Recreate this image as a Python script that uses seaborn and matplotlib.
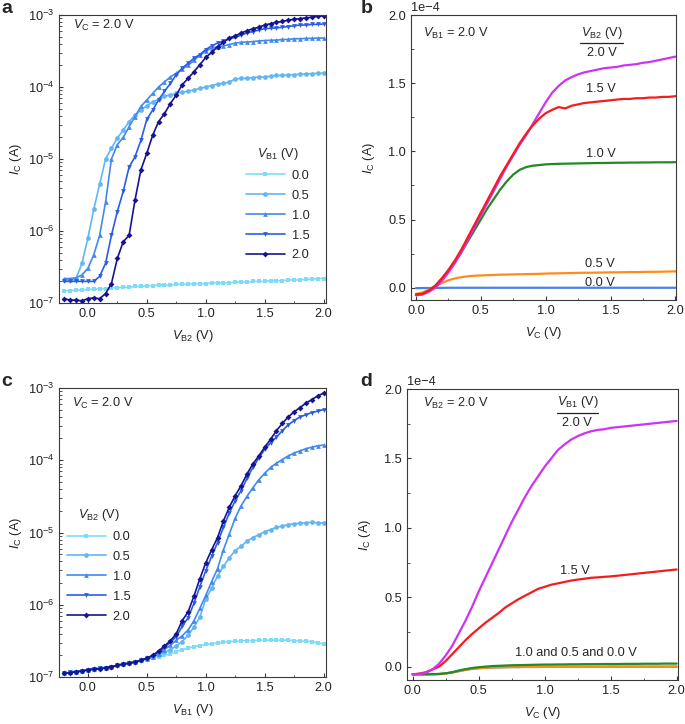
import numpy as np
import matplotlib
matplotlib.use("Agg")
import matplotlib.pyplot as plt
import seaborn as sns
from matplotlib.ticker import MultipleLocator, ScalarFormatter

# ---------------- data ----------------
# sweep voltages (V)
V_SWEEP_AC = [-0.2, -0.15, -0.1, -0.05, 0.0, 0.05, 0.1, 0.15, 0.2, 0.25, 0.3, 0.35, 0.4, 0.45,
              0.5, 0.55, 0.6, 0.65, 0.7, 0.75, 0.8, 0.85, 0.9, 0.95, 1.0, 1.05, 1.1, 1.15, 1.2,
              1.25, 1.3, 1.35, 1.4, 1.45, 1.5, 1.55, 1.6, 1.65, 1.7, 1.75, 1.8, 1.85, 1.9, 1.95, 2.0]
V_SWEEP_BD = [0.0, 0.05, 0.1, 0.15, 0.2, 0.25, 0.3, 0.35, 0.4, 0.45,
              0.5, 0.55, 0.6, 0.65, 0.7, 0.75, 0.8, 0.85, 0.9, 0.95,
              1.0, 1.05, 1.1, 1.15, 1.2, 1.25, 1.3, 1.35, 1.4, 1.45,
              1.5, 1.55, 1.6, 1.65, 1.7, 1.75, 1.8, 1.85, 1.9, 1.95, 2.0]

# panel a: log10(I_C / A) vs V_B2 for each V_B1
a_log_vb1_00 = [-6.83, -6.83, -6.82, -6.82, -6.81, -6.81, -6.80, -6.80, -6.79, -6.79, -6.78, -6.78, -6.77, -6.77,
                -6.76, -6.76, -6.75, -6.75, -6.75, -6.74, -6.74, -6.74, -6.73, -6.73, -6.73, -6.72, -6.72, -6.72,
                -6.72, -6.71, -6.71, -6.71, -6.70, -6.70, -6.70, -6.69, -6.69, -6.69, -6.68, -6.68, -6.68, -6.67,
                -6.67, -6.66, -6.66]
a_log_vb1_05 = [-6.68, -6.68, -6.66, -6.45, -6.10, -5.70, -5.35, -5.00, -4.85, -4.71, -4.60, -4.48, -4.39, -4.32,
                -4.26, -4.21, -4.17, -4.13, -4.11, -4.09, -4.07, -4.06, -4.04, -4.02, -4.00, -3.98, -3.96, -3.95,
                -3.93, -3.89, -3.88, -3.88, -3.87, -3.86, -3.86, -3.85, -3.84, -3.84, -3.83, -3.83, -3.82, -3.82,
                -3.815, -3.81, -3.81]
a_log_vb1_10 = [-6.66, -6.66, -6.65, -6.61, -6.52, -6.33, -6.06, -5.60, -5.00, -4.80, -4.70, -4.55, -4.41, -4.27,
                -4.18, -4.09, -4.00, -3.93, -3.86, -3.81, -3.75, -3.70, -3.63, -3.56, -3.50, -3.46, -3.44, -3.43,
                -3.41, -3.39, -3.38, -3.375, -3.37, -3.36, -3.355, -3.35, -3.35, -3.34, -3.34, -3.33, -3.33, -3.325,
                -3.325, -3.32, -3.32]
a_log_vb1_15 = [-6.70, -6.70, -6.70, -6.70, -6.70, -6.70, -6.63, -6.45, -6.06, -5.73, -5.45, -5.11, -4.97, -4.74,
                -4.45, -4.32, -4.18, -4.06, -3.95, -3.83, -3.74, -3.67, -3.60, -3.55, -3.48, -3.43, -3.39, -3.36,
                -3.33, -3.31, -3.28, -3.25, -3.23, -3.21, -3.19, -3.185, -3.18, -3.17, -3.16, -3.15, -3.14, -3.14,
                -3.13, -3.13, -3.125]
a_log_vb1_20 = [-6.94, -6.96, -6.96, -6.97, -6.94, -6.93, -6.94, -6.87, -6.73, -6.38, -6.15, -6.06, -5.57, -5.15,
                -4.92, -4.67, -4.48, -4.37, -4.23, -4.11, -3.97, -3.88, -3.79, -3.69, -3.59, -3.52, -3.44, -3.38,
                -3.32, -3.29, -3.25, -3.22, -3.19, -3.17, -3.14, -3.12, -3.10, -3.09, -3.07, -3.06, -3.05, -3.04,
                -3.03, -3.02, -3.01]

# panel c: log10(I_C / A) vs V_B1 for each V_B2
c_log_vb2_00 = [-6.95, -6.935, -6.925, -6.915, -6.90, -6.89, -6.88, -6.87, -6.855, -6.84, -6.82, -6.81, -6.79, -6.77,
                -6.755, -6.74, -6.72, -6.70, -6.68, -6.65, -6.62, -6.60, -6.58, -6.565, -6.55, -6.54, -6.53, -6.52,
                -6.51, -6.505, -6.50, -6.497, -6.495, -6.49, -6.49, -6.49, -6.49, -6.49, -6.49, -6.495, -6.50,
                -6.505, -6.51, -6.53, -6.54]
c_log_vb2_05 = [-6.95, -6.935, -6.925, -6.915, -6.90, -6.89, -6.88, -6.87, -6.855, -6.84, -6.82, -6.81, -6.79, -6.77,
                -6.745, -6.72, -6.69, -6.66, -6.62, -6.57, -6.51, -6.42, -6.31, -6.17, -5.92, -5.77, -5.60, -5.47,
                -5.35, -5.25, -5.19, -5.12, -5.07, -5.03, -4.99, -4.96, -4.93, -4.91, -4.89, -4.88, -4.87, -4.865,
                -4.86, -4.865, -4.87]
c_log_vb2_10 = [-6.95, -6.935, -6.925, -6.915, -6.90, -6.89, -6.88, -6.87, -6.855, -6.84, -6.82, -6.81, -6.79, -6.77,
                -6.745, -6.72, -6.68, -6.62, -6.56, -6.49, -6.43, -6.35, -6.22, -6.05, -5.87, -5.68, -5.50, -5.24,
                -5.02, -4.80, -4.63, -4.50, -4.38, -4.27, -4.18, -4.10, -4.04, -3.99, -3.94, -3.90, -3.87, -3.84,
                -3.82, -3.80, -3.79]
c_log_vb2_15 = [-6.95, -6.935, -6.925, -6.915, -6.90, -6.89, -6.88, -6.87, -6.855, -6.84, -6.82, -6.81, -6.79, -6.77,
                -6.74, -6.71, -6.66, -6.59, -6.52, -6.44, -6.30, -6.18, -5.98, -5.75, -5.53, -5.33, -5.14, -4.93,
                -4.73, -4.56, -4.42, -4.25, -4.10, -3.97, -3.85, -3.76, -3.68, -3.59, -3.51, -3.45, -3.40, -3.37,
                -3.34, -3.32, -3.30]
c_log_vb2_20 = [-6.95, -6.94, -6.925, -6.92, -6.90, -6.89, -6.885, -6.87, -6.855, -6.84, -6.82, -6.81, -6.79, -6.77,
                -6.735, -6.70, -6.64, -6.57, -6.50, -6.40, -6.22, -6.10, -5.88, -5.64, -5.42, -5.24, -5.07, -4.84,
                -4.65, -4.49, -4.35, -4.19, -4.05, -3.94, -3.82, -3.71, -3.59, -3.49, -3.40, -3.33, -3.27, -3.21,
                -3.16, -3.11, -3.07]

# panel b: I_C (x1e-4 A) vs V_C, V_B1 = 2.0 V, for each V_B2
b_vb2_00 = [-0.003, -0.002, -0.002, -0.001, -0.001, 0.0, 0.0, 0.0, 0.0, 0.0,
            0.0, 0.0, 0.0, 0.0, 0.0, 0.0, 0.0, 0.0, 0.0, 0.0,
            0.0, 0.0, 0.0, 0.0, 0.0, 0.0, 0.0, 0.0, 0.0, 0.0,
            0.0, 0.0, 0.0, 0.0, 0.0, 0.0, 0.0, 0.0, 0.0, 0.0, 0.0]
b_vb2_05 = [-0.045, -0.035, -0.015, 0.012, 0.035, 0.055, 0.068, 0.078, 0.084, 0.088,
            0.090, 0.092, 0.094, 0.096, 0.097, 0.098, 0.099, 0.100, 0.101, 0.102,
            0.104, 0.105, 0.106, 0.107, 0.108, 0.109, 0.110, 0.110, 0.111, 0.112,
            0.113, 0.113, 0.114, 0.115, 0.115, 0.116, 0.117, 0.117, 0.118, 0.119, 0.120]
b_vb2_10 = [-0.05, -0.045, -0.02, 0.015, 0.065, 0.125, 0.19, 0.26, 0.34, 0.42,
            0.50, 0.58, 0.65, 0.72, 0.78, 0.83, 0.865, 0.885, 0.895, 0.90,
            0.905, 0.907, 0.909, 0.91, 0.911, 0.912, 0.913, 0.914, 0.915, 0.915,
            0.916, 0.917, 0.917, 0.918, 0.918, 0.919, 0.919, 0.92, 0.92, 0.92, 0.921]
b_vb2_15 = [-0.05, -0.045, -0.02, 0.015, 0.07, 0.13, 0.20, 0.28, 0.37, 0.46,
            0.55, 0.64, 0.73, 0.82, 0.90, 0.98, 1.06, 1.13, 1.19, 1.24,
            1.28, 1.305, 1.325, 1.315, 1.335, 1.345, 1.355, 1.36, 1.365, 1.37,
            1.375, 1.38, 1.385, 1.385, 1.39, 1.39, 1.395, 1.395, 1.40, 1.40, 1.405]
b_vb2_20 = [-0.055, -0.05, -0.03, 0.0, 0.05, 0.11, 0.18, 0.26, 0.35, 0.44,
            0.53, 0.62, 0.71, 0.80, 0.89, 0.97, 1.05, 1.12, 1.20, 1.28,
            1.36, 1.43, 1.48, 1.52, 1.545, 1.565, 1.58, 1.59, 1.60, 1.61,
            1.615, 1.62, 1.63, 1.635, 1.64, 1.65, 1.655, 1.665, 1.675, 1.685, 1.695]

# panel d: I_C (x1e-4 A) vs V_C, V_B2 = 2.0 V, for each V_B1
d_vb1_00 = [-0.055, -0.055, -0.055, -0.054, -0.053, -0.049, -0.042, -0.032, -0.023, -0.016,
            -0.011, -0.008, -0.006, -0.005, -0.004, -0.003, -0.003, -0.002, -0.002, -0.002,
            -0.001, -0.001, -0.001, -0.001, -0.001, -0.001, -0.001, -0.001, -0.001, -0.001,
            0.0, 0.0, 0.0, 0.0, 0.0, 0.0, 0.0, 0.0, 0.0, 0.0, 0.0]
d_vb1_05 = [-0.055, -0.055, -0.055, -0.054, -0.053, -0.049, -0.042, -0.032, -0.023, -0.016,
            -0.011, -0.008, -0.006, -0.005, -0.004, -0.003, -0.003, -0.002, -0.002, -0.002,
            -0.001, -0.001, -0.001, -0.001, -0.001, -0.001, -0.001, -0.001, -0.001, -0.001,
            0.0, 0.0, 0.0, 0.0, 0.0, 0.0, 0.0, 0.0, 0.0, 0.0, 0.0]
d_vb1_10 = [-0.055, -0.055, -0.055, -0.054, -0.053, -0.048, -0.04, -0.028, -0.018, -0.01,
            -0.004, 0.0, 0.004, 0.006, 0.008, 0.01, 0.011, 0.012, 0.013, 0.014,
            0.015, 0.015, 0.016, 0.016, 0.017, 0.017, 0.018, 0.018, 0.018, 0.019,
            0.019, 0.019, 0.02, 0.02, 0.02, 0.021, 0.021, 0.021, 0.022, 0.022, 0.022]
d_vb1_15 = [-0.055, -0.05, -0.04, -0.02, 0.0, 0.04, 0.09, 0.14, 0.19, 0.235,
            0.275, 0.315, 0.35, 0.385, 0.425, 0.455, 0.485, 0.51, 0.535, 0.56,
            0.575, 0.59, 0.60, 0.61, 0.62, 0.627, 0.633, 0.64, 0.643, 0.647,
            0.65, 0.655, 0.66, 0.665, 0.67, 0.675, 0.68, 0.685, 0.69, 0.695, 0.70]
d_vb1_20 = [-0.055, -0.053, -0.045, -0.02, 0.02, 0.08, 0.15, 0.24, 0.33, 0.43,
            0.54, 0.64, 0.74, 0.84, 0.94, 1.04, 1.13, 1.22, 1.30, 1.37,
            1.44, 1.50, 1.56, 1.60, 1.635, 1.66, 1.68, 1.695, 1.705, 1.71,
            1.72, 1.725, 1.73, 1.735, 1.74, 1.745, 1.75, 1.755, 1.76, 1.765, 1.77]

LEGEND_LABELS = ["0.0", "0.5", "1.0", "1.5", "2.0"]
LOG_COLORS = ["#7fdcf8", "#62b6f4", "#4389ee", "#2a5de6", "#15158f"]
LOG_MARKERS = ["s", "o", "^", "v", "D"]
LIN_COLORS = {"0.0": "#4a82e6", "0.5": "#ff8c1a", "1.0": "#238a23", "1.5": "#f51c1c", "2.0": "#cc33f5"}

FS = 9.2

# ---------------- style ----------------
sns.set_style("ticks")
plt.rcParams.update({
    "font.family": ["Liberation Sans", "DejaVu Sans"],
    "font.size": FS,
    "mathtext.fontset": "custom",
    "mathtext.rm": "Liberation Sans",
    "mathtext.it": "Liberation Sans:italic",
    "mathtext.bf": "Liberation Sans:bold",
    "axes.linewidth": 0.8,
    "axes.edgecolor": "#3a3a3a",
    "xtick.direction": "in",
    "ytick.direction": "in",
    "xtick.major.size": 3.0,
    "ytick.major.size": 3.0,
    "xtick.minor.size": 1.8,
    "ytick.minor.size": 1.8,
    "xtick.major.width": 0.8,
    "ytick.major.width": 0.8,
    "xtick.minor.width": 0.6,
    "ytick.minor.width": 0.6,
    "xtick.color": "#3a3a3a",
    "ytick.color": "#3a3a3a",
    "xtick.labelcolor": "#222222",
    "ytick.labelcolor": "#222222",
    "xtick.labelsize": FS,
    "ytick.labelsize": FS,
    "axes.labelsize": FS,
    "axes.labelcolor": "#222222",
    "axes.unicode_minus": True,
})

fig = plt.figure(figsize=(6.85, 7.24), dpi=100)
ax_a = fig.add_axes([0.0861, 0.5815, 0.3898, 0.3978])
ax_b = fig.add_axes([0.5996, 0.5856, 0.3873, 0.3936])
ax_c = fig.add_axes([0.0861, 0.0649, 0.3898, 0.3992])
ax_d = fig.add_axes([0.5937, 0.0608, 0.3960, 0.4019])

x_ac = np.array(V_SWEEP_AC)
x_bd = np.array(V_SWEEP_BD)


def log_panel(ax, series, xlabel, legend_title, legend_center, note_xy):
    for lab, ys, col, mk in zip(LEGEND_LABELS, series, LOG_COLORS, LOG_MARKERS):
        ms = 3.4 if mk != "D" else 3.0
        sns.lineplot(x=x_ac, y=10.0 ** np.array(ys), ax=ax, color=col, marker=mk,
                     markersize=ms, markeredgewidth=0, linewidth=1.2, label=lab,
                     sort=False, errorbar=None)
    ax.set_yscale("log")
    ax.set_ylim(1e-7, 1e-3)
    ax.set_xlim(-0.245, 2.02)
    ax.xaxis.set_major_locator(MultipleLocator(0.5))
    ax.xaxis.set_minor_locator(MultipleLocator(0.25))
    ax.xaxis.set_major_formatter(matplotlib.ticker.FormatStrFormatter("%.1f"))
    ax.set_xlabel(xlabel, labelpad=6)
    ax.set_ylabel(r"$I_{\mathrm{C}}$ (A)", labelpad=3)
    ax.text(note_xy[0], note_xy[1], r"$V_{\mathrm{C}}$ = 2.0 V", transform=ax.transAxes,
            ha="left", va="center", fontsize=FS)
    leg = ax.legend(title=legend_title, loc="center", bbox_to_anchor=legend_center,
                    frameon=False, handlelength=3.1, handletextpad=0.5, labelspacing=0.62,
                    fontsize=FS, title_fontsize=FS, numpoints=1)
    leg._legend_box.align = "center"


log_panel(ax_a, [a_log_vb1_00, a_log_vb1_05, a_log_vb1_10, a_log_vb1_15, a_log_vb1_20],
          r"$V_{\mathrm{B2}}$ (V)", r"$V_{\mathrm{B1}}$ (V)", (0.818, 0.345), (0.053, 0.962))
log_panel(ax_c, [c_log_vb2_00, c_log_vb2_05, c_log_vb2_10, c_log_vb2_15, c_log_vb2_20],
          r"$V_{\mathrm{B1}}$ (V)", r"$V_{\mathrm{B2}}$ (V)", (0.148, 0.388), (0.047, 0.947))


def lin_panel(ax, series, xlim, ylim):
    for lab, ys in series:
        sns.lineplot(x=x_bd, y=np.array(ys) * 1e-4, ax=ax, color=LIN_COLORS[lab],
                     linewidth=1.6, sort=False, errorbar=None)
    ax.set_xlim(*xlim)
    ax.set_ylim(ylim[0] * 1e-4, ylim[1] * 1e-4)
    ax.xaxis.set_major_locator(MultipleLocator(0.5))
    ax.xaxis.set_minor_locator(MultipleLocator(0.25))
    ax.yaxis.set_major_locator(MultipleLocator(0.5e-4))
    ax.yaxis.set_minor_locator(MultipleLocator(0.25e-4))
    ax.xaxis.set_major_formatter(matplotlib.ticker.FormatStrFormatter("%.1f"))
    fmt = ScalarFormatter(useMathText=False)
    fmt.set_powerlimits((0, 0))
    ax.yaxis.set_major_formatter(fmt)
    ax.yaxis.get_offset_text().set_fontsize(FS)
    ax.set_xlabel(r"$V_{\mathrm{C}}$ (V)", labelpad=6)
    ax.set_ylabel(r"$I_{\mathrm{C}}$ (A)", labelpad=8)


lin_panel(ax_b, [("0.0", b_vb2_00), ("0.5", b_vb2_05), ("1.0", b_vb2_10),
                 ("2.0", b_vb2_20), ("1.5", b_vb2_15)], (-0.04, 2.005), (-0.09, 2.0))
lin_panel(ax_d, [("0.0", d_vb1_00), ("0.5", d_vb1_05), ("1.0", d_vb1_10),
                 ("1.5", d_vb1_15), ("2.0", d_vb1_20)], (-0.045, 2.01), (-0.096, 2.0))

# annotations panel b
tb = ax_b.transAxes
ax_b.text(0.048, 0.937, r"$V_{\mathrm{B1}}$ = 2.0 V", transform=tb, ha="left", va="center")
ax_b.text(0.72, 0.936, r"$V_{\mathrm{B2}}$ (V)", transform=tb, ha="center", va="center")
ax_b.plot([0.638, 0.801], [0.903, 0.903], transform=tb, color="#222222", lw=0.9)
ax_b.text(0.72, 0.866, "2.0 V", transform=tb, ha="center", va="center")
ax_b.text(0.716, 0.74, "1.5 V", transform=tb, ha="center", va="center")
ax_b.text(0.716, 0.512, "1.0 V", transform=tb, ha="center", va="center")
ax_b.text(0.714, 0.125, "0.5 V", transform=tb, ha="center", va="center")
ax_b.text(0.714, 0.061, "0.0 V", transform=tb, ha="center", va="center")

# annotations panel d
td = ax_d.transAxes
ax_d.text(0.061, 0.951, r"$V_{\mathrm{B2}}$ = 2.0 V", transform=td, ha="left", va="center")
ax_d.text(0.629, 0.956, r"$V_{\mathrm{B1}}$ (V)", transform=td, ha="center", va="center")
ax_d.plot([0.553, 0.706], [0.919, 0.919], transform=td, color="#222222", lw=0.9)
ax_d.text(0.629, 0.882, "2.0 V", transform=td, ha="center", va="center")
ax_d.text(0.62, 0.376, "1.5 V", transform=td, ha="center", va="center")
ax_d.text(0.622, 0.094, "1.0 and 0.5 and 0.0 V", transform=td, ha="center", va="center")

# panel letters
for letter, (x, y) in {"a": (0.002, 0.9876), "b": (0.527, 0.9876),
                       "c": (0.002, 0.4724), "d": (0.5266, 0.473)}.items():
    fig.text(x, y, letter, fontsize=14, fontweight="bold", ha="left", va="center")

fig.savefig("out.png", dpi=100)
